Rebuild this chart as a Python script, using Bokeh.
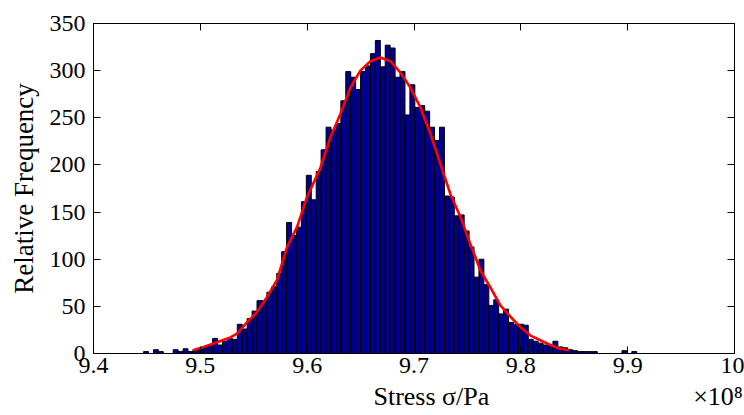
from bokeh.plotting import figure
from bokeh.models import Range1d, LinearAxis, FixedTicker, CustomJSTickFormatter
from bokeh.embed import file_html
from bokeh.resources import INLINE

# Histogram (100 bins), stress in units of 1e8 Pa
bin_start = 9.4469
bin_width = 0.004616
counts = [2, 0, 4, 2, 0, 0, 4, 2, 5, 2,
          4, 5, 7, 8, 16, 9, 13, 16, 15, 31,
          26, 37, 45, 56, 56, 65, 71, 85, 108, 139,
          125, 134, 161, 189, 163, 193, 216, 240, 237, 244,
          268, 299, 293, 280, 299, 305, 318, 332, 304, 327,
          324, 293, 299, 253, 285, 261, 263, 257, 240, 226,
          240, 167, 166, 146, 147, 130, 113, 81, 100, 73,
          51, 57, 42, 47, 33, 31, 31, 30, 15, 13,
          11, 9, 8, 13, 7, 6, 4, 3, 2, 2,
          2, 2, 0, 0, 0, 0, 0, 3, 0, 2]

# Fitted density curve (scaled to counts)
curve_x = [9.4932, 9.5031, 9.5156, 9.5281, 9.5344, 9.5437, 9.5531, 9.5625, 9.5718, 9.5812,
           9.5905, 9.5999, 9.6124, 9.6217, 9.6311, 9.6405, 9.6498, 9.6592, 9.6685, 9.6779,
           9.6873, 9.6966, 9.7060, 9.7154, 9.7247, 9.7341, 9.7434, 9.7528, 9.7622, 9.7715,
           9.7809, 9.7903, 9.7996, 9.8090, 9.8184, 9.8277, 9.8371, 9.8449]
curve_y = [3.5, 7, 12, 17, 21, 33, 44, 60, 78, 113,
           134, 166, 197, 229, 254, 282, 300, 310, 314, 310,
           298, 282, 261, 233, 201, 169, 145, 116, 88, 70,
           51, 39, 28, 19, 14, 9, 5, 3.5]

x_ticks = [9.4, 9.5, 9.6, 9.7, 9.8, 9.9, 10.0]
y_ticks = [0, 50, 100, 150, 200, 250, 300, 350]
x_title = "Stress σ/Pa"
x_exponent = "×10⁸"
y_title = "Relative Frequency"
title_pos = [9.7163, 9.9846]

lefts = [bin_start + i * bin_width for i in range(len(counts))]
rights = [l + bin_width for l in lefts]
bottoms = [0] * len(counts)

FONT = "Liberation Serif"

p = figure(width=744, height=415, output_backend="svg", toolbar_location=None,
           x_range=Range1d(9.4, 10.0), y_range=Range1d(0, 350),
           min_border_left=93, min_border_right=10, min_border_top=23, min_border_bottom=62)

p.background_fill_color = "white"
p.border_fill_color = "white"
p.outline_line_color = "black"
p.outline_line_width = 1
p.xgrid.visible = False
p.ygrid.visible = False

p.quad(left=lefts, right=rights, top=counts, bottom=bottoms,
       fill_color="#00008F", line_color="black", line_width=1)
p.line(curve_x, curve_y, line_color="#FF0000", line_width=2.6)

fmt = CustomJSTickFormatter(code="return (Math.abs(tick - 10) < 1e-9) ? '10' : tick.toFixed(1);")
blank = CustomJSTickFormatter(code="return '';")

def style(ax, ticks):
    ax.ticker = FixedTicker(ticks=ticks)
    ax.major_tick_in = 7
    ax.major_tick_out = 0
    ax.minor_tick_in = 0
    ax.minor_tick_out = 0
    ax.axis_line_color = "black"
    ax.major_tick_line_color = "black"
    ax.major_label_text_font = FONT
    ax.major_label_text_color = "black"

xa = p.xaxis[0]
style(xa, x_ticks)
xa.formatter = fmt
xa.major_label_text_font_size = "24px"
xa.major_label_standoff = 4

ya = p.yaxis[0]
style(ya, y_ticks)
ya.major_label_text_font_size = "24px"
ya.major_label_standoff = 8
ya.axis_label = y_title
ya.axis_label_text_font = FONT
ya.axis_label_text_font_size = "27px"
ya.axis_label_text_font_style = "normal"
ya.axis_label_text_color = "black"
ya.axis_label_standoff = 8

top_ax = LinearAxis(formatter=blank)
style(top_ax, x_ticks)
top_ax.major_label_standoff = 0
top_ax.major_label_text_font_size = "8px"
p.add_layout(top_ax, "above")

right_ax = LinearAxis(formatter=blank)
style(right_ax, y_ticks)
right_ax.major_label_standoff = 0
right_ax.major_label_text_font_size = "8px"
p.add_layout(right_ax, "right")

# second row below the x axis: axis title and the exponent note, on one baseline
title_ax = LinearAxis(
    ticker=FixedTicker(ticks=title_pos),
    formatter=CustomJSTickFormatter(args=dict(t0=x_title, t1=x_exponent),
                                    code="return index == 0 ? t0 : t1;"))
title_ax.major_tick_in = 0
title_ax.major_tick_out = 0
title_ax.minor_tick_in = 0
title_ax.minor_tick_out = 0
title_ax.axis_line_color = None
title_ax.major_label_standoff = 6
title_ax.major_label_text_font = FONT
title_ax.major_label_text_font_size = "26px"
title_ax.major_label_text_color = "black"
p.add_layout(title_ax, "below")

open("out.html", "w").write(file_html(p, INLINE))
